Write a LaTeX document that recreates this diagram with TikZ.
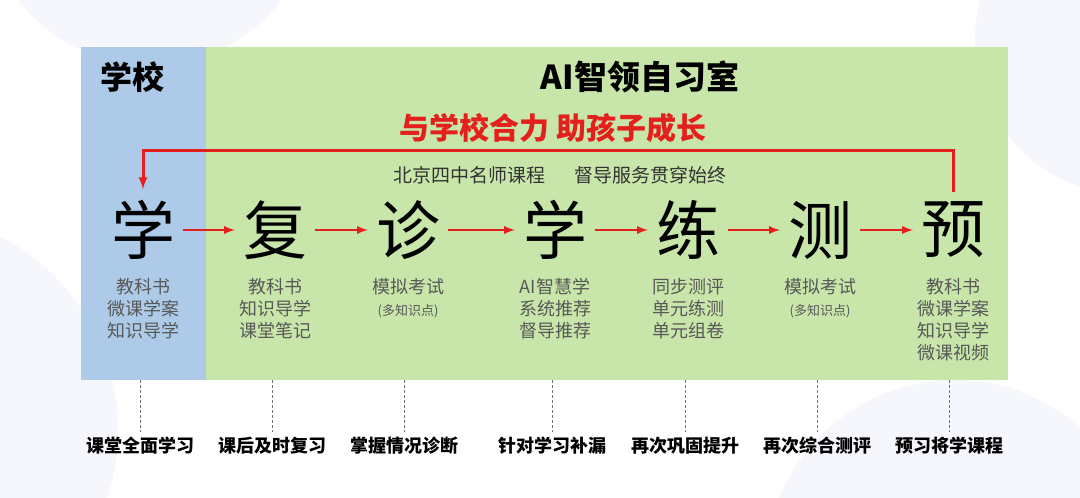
\documentclass[tikz,border=0pt]{standalone}
\usepackage{fontspec}
\setmainfont{Noto Sans CJK SC}
\usepackage{xcolor}
\usetikzlibrary{arrows}
\usetikzlibrary{calc}
\usetikzlibrary{positioning}

\definecolor{schoolblue}{RGB}{173,203,232}
\definecolor{roomgreen}{RGB}{200,230,170}
\definecolor{flowred}{RGB}{228,32,28}
\definecolor{subgray}{RGB}{88,88,88}
\definecolor{bgblob}{RGB}{246,247,252}
\newcommand{\notesize}{\fontsize{13}{16}\selectfont}

\begin{document}
\begin{tikzpicture}[
    x=1pt, y=-1pt,
    bigchar/.style={font=\fontsize{64}{64}\selectfont, inner sep=0pt},
    sublabel/.style={font=\fontsize{18}{22}\selectfont, text=subgray,
      align=center, anchor=north, inner sep=0pt},
    goal/.style={font=\bfseries\fontsize{18}{20}\selectfont, inner sep=0pt},
    flow/.style={->, >=latex, flowred, line width=2.6pt,
      shorten <=8pt, shorten >=8pt},
    guide/.style={dashed, gray!90!black, line width=0.9pt,
      dash pattern=on 3pt off 2pt}]

    \useasboundingbox (0, 0) rectangle (1080, 498);
    \fill [white] (0, 0) rectangle (1080, 498);

    % faint background blobs
    \begin{scope}
      \clip (0, 0) rectangle (1080, 498);
      \fill [bgblob] (150, -100) circle (165);
      \fill [bgblob] (-100, 430) circle (218);
      \fill [bgblob] (955, 570) circle (190);
      \fill [bgblob] (1130, 40) circle (155);
    \end{scope}

    % the two areas
    \fill [schoolblue] (81, 47) rectangle (206, 380);
    \fill [roomgreen] (206, 47) rectangle (1008, 380);
    \coordinate (boxbot) at (0, 380);
    \coordinate (looptop) at (0, 150);

    \node [font=\bfseries\fontsize{32}{34}\selectfont] (school) at (132, 77) {学校};
    \node [font=\bfseries\fontsize{33}{35}\selectfont] (room) at (640, 77) {AI智领自习室};
    \node [font=\bfseries\fontsize{30}{32}\selectfont, text=flowred] (motto)
    at (553, 128) {与学校合力 助孩子成长};

    \node [font=\fontsize{19}{21}\selectfont, text=black!80] (course) at (469, 175) {北京四中名师课程};
    \node [font=\fontsize{19}{21}\selectfont, text=black!80] (guard) at (650, 175) {督导服务贯穿始终};

    % the seven steps
    \node [bigchar] (c1) at (143, 230) {学};
    \node [bigchar] (c2) at (275, 230) {复};
    \node [bigchar] (c3) at (408, 230) {诊};
    \node [bigchar] (c4) at (555, 230) {学};
    \node [bigchar] (c5) at (688, 230) {练};
    \node [bigchar] (c6) at (820, 230) {测};
    \node [bigchar] (c7) at (953, 230) {预};

    \draw [flow] (c1) -- (c2);
    \draw [flow] (c2) -- (c3);
    \draw [flow] (c3) -- (c4);
    \draw [flow] (c4) -- (c5);
    \draw [flow] (c5) -- (c6);
    \draw [flow] (c6) -- (c7);

    \draw [flow, shorten <=10pt, shorten >=11pt, line width=3pt]
    (c7.north) -- (c7 |- looptop) -- (c1 |- looptop) -- (c1.north);

    % what each step uses
    \node [sublabel] (s1) at (143, 278) {教科书\\微课学案\\知识导学};
    \node [sublabel] (s2) at (275, 278) {教科书\\知识导学\\课堂笔记};
    \node [sublabel] (s3) at (408, 278) {模拟考试\\{\notesize (多知识点)}};
    \node [sublabel] (s4) at (555, 278) {AI智慧学\\系统推荐\\督导推荐};
    \node [sublabel] (s5) at (688, 278) {同步测评\\单元练测\\单元组卷};
    \node [sublabel] (s6) at (820, 278) {模拟考试\\{\notesize (多知识点)}};
    \node [sublabel] (s7) at (953, 278) {教科书\\微课学案\\知识导学\\微课视频};

    % what each step is for
    \node [goal] (b1) at (140, 446) {课堂全面学习};
    \node [goal] (b2) at (272, 446) {课后及时复习};
    \node [goal] (b3) at (404, 446) {掌握情况诊断};
    \node [goal] (b4) at (552, 446) {针对学习补漏};
    \node [goal] (b5) at (685, 446) {再次巩固提升};
    \node [goal] (b6) at (817, 446) {再次综合测评};
    \node [goal] (b7) at (949, 446) {预习将学课程};

    \draw [guide] (b1 |- boxbot) -- ([yshift=5pt]b1.north);
    \draw [guide] (b2 |- boxbot) -- ([yshift=5pt]b2.north);
    \draw [guide] (b3 |- boxbot) -- ([yshift=5pt]b3.north);
    \draw [guide] (b4 |- boxbot) -- ([yshift=5pt]b4.north);
    \draw [guide] (b5 |- boxbot) -- ([yshift=5pt]b5.north);
    \draw [guide] (b6 |- boxbot) -- ([yshift=5pt]b6.north);
    \draw [guide] (b7 |- boxbot) -- ([yshift=5pt]b7.north);

  \end{tikzpicture}
\end{document}
